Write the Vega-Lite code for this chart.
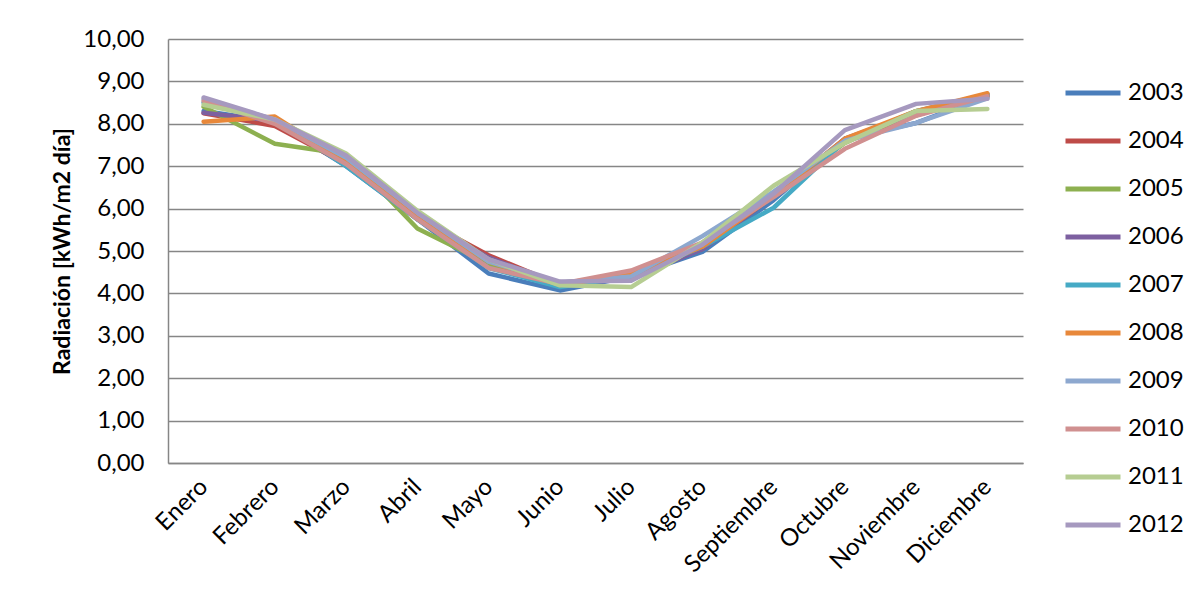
{
  "$schema": "https://vega.github.io/schema/vega-lite/v6.json",
  "width": 855,
  "height": 424,
  "autosize": {"type": "none"},
  "padding": {"left": 168, "top": 39, "right": 179, "bottom": 139},
  "background": "white",
  "config": {
    "view": {"stroke": null},
    "font": "Lato",
    "axis": {"labelFont": "Lato", "titleFont": "Lato", "labelColor": "#000000", "titleColor": "#000000"}
  },
  "data": {
    "values": [
      {"mes": "Enero", "anio": "2003", "rad": 8.30}, {"mes": "Febrero", "anio": "2003", "rad": 8.05}, {"mes": "Marzo", "anio": "2003", "rad": 7.00}, {"mes": "Abril", "anio": "2003", "rad": 5.75}, {"mes": "Mayo", "anio": "2003", "rad": 4.47}, {"mes": "Junio", "anio": "2003", "rad": 4.07}, {"mes": "Julio", "anio": "2003", "rad": 4.40}, {"mes": "Agosto", "anio": "2003", "rad": 4.98}, {"mes": "Septiembre", "anio": "2003", "rad": 6.20}, {"mes": "Octubre", "anio": "2003", "rad": 7.65}, {"mes": "Noviembre", "anio": "2003", "rad": 8.02}, {"mes": "Diciembre", "anio": "2003", "rad": 8.65},
      {"mes": "Enero", "anio": "2004", "rad": 8.25}, {"mes": "Febrero", "anio": "2004", "rad": 7.95}, {"mes": "Marzo", "anio": "2004", "rad": 7.05}, {"mes": "Abril", "anio": "2004", "rad": 5.80}, {"mes": "Mayo", "anio": "2004", "rad": 4.90}, {"mes": "Junio", "anio": "2004", "rad": 4.20}, {"mes": "Julio", "anio": "2004", "rad": 4.45}, {"mes": "Agosto", "anio": "2004", "rad": 5.05}, {"mes": "Septiembre", "anio": "2004", "rad": 6.30}, {"mes": "Octubre", "anio": "2004", "rad": 7.60}, {"mes": "Noviembre", "anio": "2004", "rad": 8.20}, {"mes": "Diciembre", "anio": "2004", "rad": 8.70},
      {"mes": "Enero", "anio": "2005", "rad": 8.40}, {"mes": "Febrero", "anio": "2005", "rad": 7.53}, {"mes": "Marzo", "anio": "2005", "rad": 7.28}, {"mes": "Abril", "anio": "2005", "rad": 5.53}, {"mes": "Mayo", "anio": "2005", "rad": 4.70}, {"mes": "Junio", "anio": "2005", "rad": 4.25}, {"mes": "Julio", "anio": "2005", "rad": 4.40}, {"mes": "Agosto", "anio": "2005", "rad": 5.10}, {"mes": "Septiembre", "anio": "2005", "rad": 6.35}, {"mes": "Octubre", "anio": "2005", "rad": 7.55}, {"mes": "Noviembre", "anio": "2005", "rad": 8.30}, {"mes": "Diciembre", "anio": "2005", "rad": 8.65},
      {"mes": "Enero", "anio": "2006", "rad": 8.26}, {"mes": "Febrero", "anio": "2006", "rad": 8.07}, {"mes": "Marzo", "anio": "2006", "rad": 7.10}, {"mes": "Abril", "anio": "2006", "rad": 5.75}, {"mes": "Mayo", "anio": "2006", "rad": 4.85}, {"mes": "Junio", "anio": "2006", "rad": 4.20}, {"mes": "Julio", "anio": "2006", "rad": 4.35}, {"mes": "Agosto", "anio": "2006", "rad": 5.05}, {"mes": "Septiembre", "anio": "2006", "rad": 6.30}, {"mes": "Octubre", "anio": "2006", "rad": 7.65}, {"mes": "Noviembre", "anio": "2006", "rad": 8.25}, {"mes": "Diciembre", "anio": "2006", "rad": 8.65},
      {"mes": "Enero", "anio": "2007", "rad": 8.50}, {"mes": "Febrero", "anio": "2007", "rad": 8.10}, {"mes": "Marzo", "anio": "2007", "rad": 7.00}, {"mes": "Abril", "anio": "2007", "rad": 5.75}, {"mes": "Mayo", "anio": "2007", "rad": 4.60}, {"mes": "Junio", "anio": "2007", "rad": 4.15}, {"mes": "Julio", "anio": "2007", "rad": 4.40}, {"mes": "Agosto", "anio": "2007", "rad": 5.10}, {"mes": "Septiembre", "anio": "2007", "rad": 6.02}, {"mes": "Octubre", "anio": "2007", "rad": 7.60}, {"mes": "Noviembre", "anio": "2007", "rad": 8.30}, {"mes": "Diciembre", "anio": "2007", "rad": 8.70},
      {"mes": "Enero", "anio": "2008", "rad": 8.05}, {"mes": "Febrero", "anio": "2008", "rad": 8.17}, {"mes": "Marzo", "anio": "2008", "rad": 7.10}, {"mes": "Abril", "anio": "2008", "rad": 5.80}, {"mes": "Mayo", "anio": "2008", "rad": 4.75}, {"mes": "Junio", "anio": "2008", "rad": 4.20}, {"mes": "Julio", "anio": "2008", "rad": 4.45}, {"mes": "Agosto", "anio": "2008", "rad": 5.10}, {"mes": "Septiembre", "anio": "2008", "rad": 6.30}, {"mes": "Octubre", "anio": "2008", "rad": 7.65}, {"mes": "Noviembre", "anio": "2008", "rad": 8.30}, {"mes": "Diciembre", "anio": "2008", "rad": 8.72},
      {"mes": "Enero", "anio": "2009", "rad": 8.58}, {"mes": "Febrero", "anio": "2009", "rad": 8.10}, {"mes": "Marzo", "anio": "2009", "rad": 7.20}, {"mes": "Abril", "anio": "2009", "rad": 5.90}, {"mes": "Mayo", "anio": "2009", "rad": 4.75}, {"mes": "Junio", "anio": "2009", "rad": 4.25}, {"mes": "Julio", "anio": "2009", "rad": 4.40}, {"mes": "Agosto", "anio": "2009", "rad": 5.35}, {"mes": "Septiembre", "anio": "2009", "rad": 6.40}, {"mes": "Octubre", "anio": "2009", "rad": 7.60}, {"mes": "Noviembre", "anio": "2009", "rad": 8.02}, {"mes": "Diciembre", "anio": "2009", "rad": 8.60},
      {"mes": "Enero", "anio": "2010", "rad": 8.54}, {"mes": "Febrero", "anio": "2010", "rad": 8.00}, {"mes": "Marzo", "anio": "2010", "rad": 7.05}, {"mes": "Abril", "anio": "2010", "rad": 5.75}, {"mes": "Mayo", "anio": "2010", "rad": 4.60}, {"mes": "Junio", "anio": "2010", "rad": 4.22}, {"mes": "Julio", "anio": "2010", "rad": 4.54}, {"mes": "Agosto", "anio": "2010", "rad": 5.20}, {"mes": "Septiembre", "anio": "2010", "rad": 6.27}, {"mes": "Octubre", "anio": "2010", "rad": 7.41}, {"mes": "Noviembre", "anio": "2010", "rad": 8.19}, {"mes": "Diciembre", "anio": "2010", "rad": 8.65},
      {"mes": "Enero", "anio": "2011", "rad": 8.45}, {"mes": "Febrero", "anio": "2011", "rad": 8.10}, {"mes": "Marzo", "anio": "2011", "rad": 7.30}, {"mes": "Abril", "anio": "2011", "rad": 5.95}, {"mes": "Mayo", "anio": "2011", "rad": 4.80}, {"mes": "Junio", "anio": "2011", "rad": 4.19}, {"mes": "Julio", "anio": "2011", "rad": 4.15}, {"mes": "Agosto", "anio": "2011", "rad": 5.20}, {"mes": "Septiembre", "anio": "2011", "rad": 6.54}, {"mes": "Octubre", "anio": "2011", "rad": 7.55}, {"mes": "Noviembre", "anio": "2011", "rad": 8.30}, {"mes": "Diciembre", "anio": "2011", "rad": 8.35},
      {"mes": "Enero", "anio": "2012", "rad": 8.62}, {"mes": "Febrero", "anio": "2012", "rad": 8.10}, {"mes": "Marzo", "anio": "2012", "rad": 7.25}, {"mes": "Abril", "anio": "2012", "rad": 5.90}, {"mes": "Mayo", "anio": "2012", "rad": 4.80}, {"mes": "Junio", "anio": "2012", "rad": 4.28}, {"mes": "Julio", "anio": "2012", "rad": 4.30}, {"mes": "Agosto", "anio": "2012", "rad": 5.15}, {"mes": "Septiembre", "anio": "2012", "rad": 6.35}, {"mes": "Octubre", "anio": "2012", "rad": 7.85}, {"mes": "Noviembre", "anio": "2012", "rad": 8.47}, {"mes": "Diciembre", "anio": "2012", "rad": 8.59}
    ]
  },
  "mark": {"type": "line", "strokeWidth": 4.5, "strokeCap": "round", "strokeJoin": "round"},
  "encoding": {
    "x": {
      "field": "mes",
      "type": "nominal",
      "sort": ["Enero", "Febrero", "Marzo", "Abril", "Mayo", "Junio", "Julio", "Agosto", "Septiembre", "Octubre", "Noviembre", "Diciembre"],
      "scale": {"type": "point", "padding": 0.5},
      "axis": {
        "title": null,
        "labelAngle": -45,
        "labelAlign": "right",
        "labelBaseline": "middle",
        "labelFontSize": 24,
        "labelPadding": 20,
        "ticks": false,
        "domainColor": "#868686",
        "domainWidth": 1.5,
        "grid": false
      }
    },
    "y": {
      "field": "rad",
      "type": "quantitative",
      "scale": {"domain": [0, 10], "nice": false},
      "axis": {
        "title": "Radiación [kWh/m2 día]",
        "titleFontSize": 23,
        "titleFontWeight": "bold",
        "titlePadding": 8,
        "values": [0, 1, 2, 3, 4, 5, 6, 7, 8, 9, 10],
        "labelExpr": "replace(format(datum.value, '.2f'), '.', ',')",
        "labelFontSize": 24,
        "labelPadding": 24,
        "ticks": false,
        "domainColor": "#868686",
        "domainWidth": 1.5,
        "gridColor": "#868686",
        "gridWidth": 1.5
      }
    },
    "color": {
      "field": "anio",
      "type": "nominal",
      "scale": {
        "domain": ["2003", "2004", "2005", "2006", "2007", "2008", "2009", "2010", "2011", "2012"],
        "range": ["#4A7EBB", "#BE4B48", "#8DB050", "#7D60A0", "#46AAC5", "#E8883A", "#8DA8CF", "#D09090", "#B6CD92", "#A699BF"]
      },
      "legend": {
        "title": null,
        "orient": "none",
        "legendX": 895,
        "legendY": 24,
        "symbolType": "stroke",
        "symbolSize": 3025,
        "symbolStrokeWidth": 5,
        "labelFontSize": 24,
        "labelFont": "Lato",
        "labelColor": "#000000",
        "labelOffset": 5,
        "rowPadding": 6
      }
    }
  }
}
